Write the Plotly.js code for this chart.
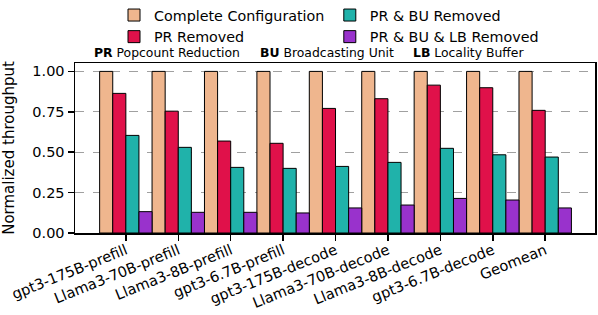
<!DOCTYPE html>
<html>
<head>
<meta charset="utf-8">
<script src="https://cdn.plot.ly/plotly-3.0.1.min.js"></script>
<style>html,body{margin:0;padding:0;background:#fff;}</style>
</head>
<body>
<div id="chart" style="width:598px;height:315px;"></div>
<script>
const categories = ["gpt3-175B-prefill","Llama3-70B-prefill","Llama3-8B-prefill","gpt3-6.7B-prefill","gpt3-175B-decode","Llama3-70B-decode","Llama3-8B-decode","gpt3-6.7B-decode","Geomean"];
const seriesNames = ["Complete Configuration","PR Removed","PR & BU Removed","PR & BU & LB Removed"];
const complete = [1,1,1,1,1,1,1,1,1];
const prRemoved = [0.864,0.754,0.569,0.555,0.771,0.831,0.915,0.899,0.759];
const prBuRemoved = [0.604,0.530,0.406,0.400,0.412,0.437,0.524,0.484,0.470];
const prBuLbRemoved = [0.132,0.128,0.128,0.124,0.155,0.173,0.214,0.204,0.155];
const yTicks = [0,0.25,0.5,0.75,1.0];
const abbrevs = ["PR","BU","LB"];
const abbrevNames = ["Popcount Reduction","Broadcasting Unit","Locality Buffer"];

const colors = ["#EFB68E","#E0114A","#20B2AA","#9932CC"];
const vals = [complete, prRemoved, prBuRemoved, prBuLbRemoved];
const legends = ["legend","legend","legend2","legend2"];
const font = "DejaVu Sans, sans-serif";

const traces = vals.map((v,i)=>({
  type:"bar", x:categories, y:v, name:seriesNames[i],
  legend: legends[i],
  marker:{color:colors[i], line:{color:"#000", width:1}}
}));

const annX = [0.0327, 0.352, 0.646];
const annotations = abbrevs.map((a,i)=>({
  xref:"paper", yref:"paper", x:annX[i], y:1.059, xanchor:"left", yanchor:"middle",
  showarrow:false, font:{size:12.4, family:font},
  text:"<b>"+a+"</b> "+abbrevNames[i]
}));

const legendCommon = {yanchor:"top", xanchor:"left", orientation:"v",
  font:{size:14.3, family:font}, bgcolor:"rgba(0,0,0,0)", tracegroupgap:0, itemwidth:30};

const layout = {
  width:598, height:315,
  margin:{l:75, r:3, t:63, b:82, autoexpand:false},
  paper_bgcolor:"#fff", plot_bgcolor:"#fff",
  font:{family:font, size:14, color:"#000"},
  barmode:"group", bargap:0, bargroupgap:0,
  showlegend:true,
  legend:Object.assign({x:0.075, y:1.375}, legendCommon),
  legend2:Object.assign({x:0.49, y:1.375}, legendCommon),
  xaxis:{type:"category", range:[-0.97,8.95], tickangle:-22,
    ticks:"outside", ticklen:6, tickwidth:1.5, tickcolor:"#000",
    showline:true, linecolor:"#000", linewidth:1.5, mirror:true,
    showgrid:false, tickfont:{size:14.6, family:font}, ticklabelstandoff:-4},
  yaxis:{range:[0,1.052], tickvals:yTicks, tickformat:".2f",
    ticks:"outside", ticklen:6, tickwidth:1.5, tickcolor:"#000",
    showline:true, linecolor:"#000", linewidth:1.5, mirror:true,
    showgrid:true, gridcolor:"#888", griddash:"dash", gridwidth:0.8,
    zeroline:false, tickfont:{size:14.5, family:font},
    title:{text:"Normalized throughput", font:{size:15, family:font}, standoff:14}},
  annotations:annotations
};

Plotly.newPlot("chart", traces, layout, {displayModeBar:false, staticPlot:true});
</script>
</body>
</html>
